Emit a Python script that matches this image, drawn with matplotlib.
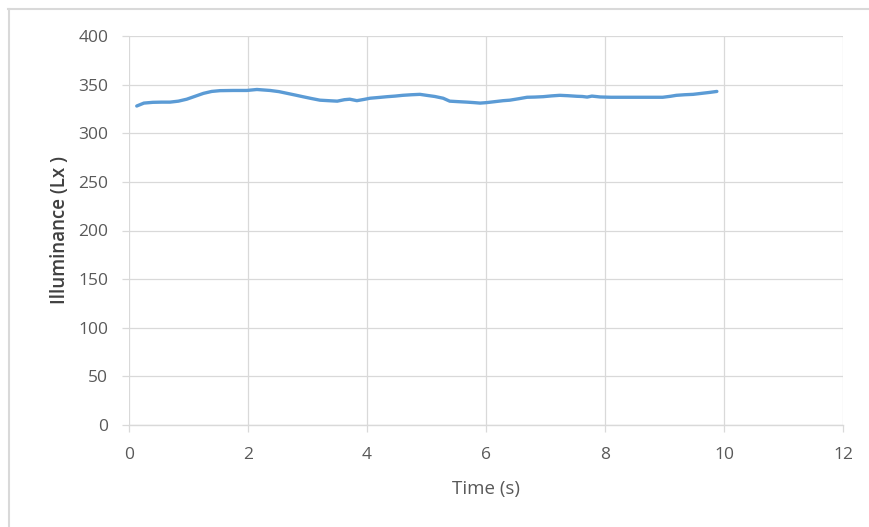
import matplotlib
matplotlib.use("Agg")
import matplotlib.pyplot as plt
from matplotlib.lines import Line2D

# Illuminance readings over time
time_s = [0.13, 0.25, 0.40, 0.55, 0.69, 0.83, 0.97, 1.11, 1.25, 1.39, 1.53, 1.75,
          1.98, 2.15, 2.37, 2.52, 2.66, 2.80, 2.92, 3.06, 3.21, 3.35, 3.50, 3.62,
          3.71, 3.83, 3.95, 4.05, 4.20, 4.34, 4.47, 4.60, 4.75, 4.89, 5.00, 5.14,
          5.28, 5.39, 5.53, 5.68, 5.80, 5.90, 6.01, 6.15, 6.29, 6.40, 6.55, 6.69,
          6.82, 6.96, 7.10, 7.24, 7.38, 7.53, 7.62, 7.70, 7.78, 7.92, 8.10, 8.37,
          8.60, 8.80, 8.97, 9.10, 9.20, 9.34, 9.48, 9.62, 9.76, 9.88]
lux = [328.0, 331.0, 331.8, 332.0, 332.0, 333.0, 335.0, 338.0, 341.0, 343.0, 343.8, 344.0,
       344.0, 345.0, 344.0, 342.8, 341.0, 339.2, 337.6, 335.8, 334.0, 333.5, 333.0, 334.5,
       335.0, 333.5, 334.8, 336.0, 336.8, 337.6, 338.2, 339.0, 339.6, 340.0, 339.0, 337.8,
       336.0, 333.0, 332.5, 332.0, 331.5, 331.0, 331.5, 332.5, 333.5, 334.0, 335.5, 337.0,
       337.2, 337.6, 338.4, 339.0, 338.6, 338.0, 337.8, 337.2, 338.2, 337.3, 337.0, 337.0,
       337.0, 337.0, 337.0, 338.0, 339.0, 339.6, 340.0, 341.0, 342.0, 343.0]

x_ticks = [0, 2, 4, 6, 8, 10, 12]
y_ticks = [0, 50, 100, 150, 200, 250, 300, 350, 400]

plt.rcParams['font.family'] = ['Open Sans', 'DejaVu Sans']

fig = plt.figure(figsize=(8.69, 5.27), dpi=100)
ax = fig.add_axes([129 / 869, 1 - 425 / 527, (843 - 129) / 869, (425 - 36) / 527])

grid_c = '#d9d9d9'
ax.plot(time_s, lux, color='#5b9bd5', linewidth=2.4, solid_capstyle='round', zorder=3)

ax.set_xlim(0, 12)
ax.set_ylim(0, 400)
ax.set_xticks(x_ticks)
ax.set_yticks(y_ticks)
ax.grid(True, color=grid_c, linewidth=0.9)
ax.set_axisbelow(True)

for side in ['top', 'right', 'left']:
    ax.spines[side].set_visible(False)
ax.spines['bottom'].set_color(grid_c)
ax.spines['bottom'].set_linewidth(1.0)

ax.tick_params(axis='both', colors=grid_c, labelcolor='#595959', labelsize=12.5,
               length=5, width=0.9, direction='out')
ax.tick_params(axis='x', pad=11)
ax.tick_params(axis='y', pad=10)

ax.set_xlabel('Time (s)', fontsize=13.5, color='#595959', labelpad=12)
ax.set_ylabel('Illuminance (Lx )', fontsize=13.5, color='#404040',
              fontweight='semibold', labelpad=6)

# thin chart-area frame along the top and left edges
fig.add_artist(Line2D([8 / 869, 1.0], [1 - 9 / 527, 1 - 9 / 527],
                      transform=fig.transFigure, color='#d9d9d9', linewidth=1.5))
fig.add_artist(Line2D([9 / 869, 9 / 869], [0.0, 1 - 9 / 527],
                      transform=fig.transFigure, color='#d9d9d9', linewidth=1.5))

fig.savefig('out.png', dpi=100)
